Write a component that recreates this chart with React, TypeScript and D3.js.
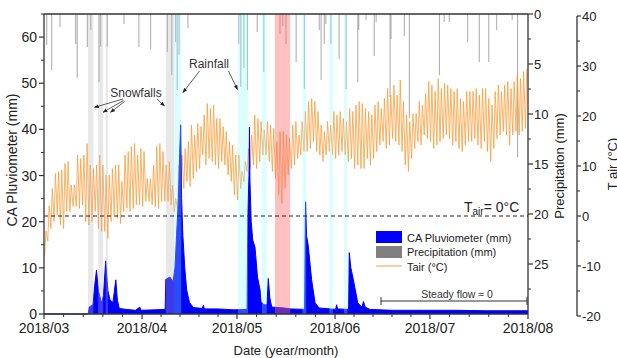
import React from "react";
import * as d3 from "d3";

// ---------- DATA ----------
const startDay = Date.UTC(2018, 2, 1);
const endDay = Date.UTC(2018, 7, 1);

// daily air temperature minimum / maximum (°C), from 2018-03-01
const tairMin = [
  -8, -5, -2.5, -1.1, 0.2, -1.8, -2.5, 0.9, 0.9, 1.9,
  1.9, 1.5, 2.2, -1.1, -1.8, -1.1, 0.9, -2.5, -3.1, -3.1,
  -4.5, -1.1, 0.2, -0.5, -1.5, 0.9, 1.5, 0.9, 1.5, 2.2,
  2.2, 1.9, 2.9, 2.9, 2.2, 1.9, 1.5, 2.9, 2.9, 2.9,
  2.2, 0.9, 1.5, 4.2, 5.5, 6.9, 5.9, 7.5, 8.9, 9.5,
  12.2, 10.2, 11.5, 10.9, 10.2, 9.5, 10.9, 10.2, 8.2, 6.9,
  4.2, 3.2, 5.5, 6.9, 8.9, 9.5, 10.2, 9.5, 10.9, 12.2,
  12.2, 10.9, 8.9, 7.5, 4.2, 2.5, 5.5, 8.2, 9.5, 10.2,
  11.5, 12.2, 12.9, 12.9, 13.5, 14.9, 12.9, 12.2, 10.9, 12.2,
  12.9, 12.2, 11.5, 12.2, 12.9, 12.2, 10.9, 11.5, 9.5, 10.2,
  9.5, 9.5, 11.5, 10.2, 11.5, 12.9, 14.2, 14.9, 13.5, 14.2,
  15.5, 14.9, 14.2, 12.9, 10.2, 8.9, 11.5, 13.5, 14.9, 14.2,
  16.2, 15.5, 14.9, 13.5, 14.2, 14.9, 15.5, 16.2, 15.5, 14.2,
  14.9, 13.5, 12.9, 14.2, 14.9, 14.9, 15.5, 14.2, 13.5, 14.9,
  12.9, 10.9, 13.5, 15.5, 16.2, 16.9, 16.2, 14.2, 16.2, 16.9,
  16.2, 16.9, 17.5,
];
const tairMax = [
  -3, 2, 5.5, 8.5, 8.9, 9.2, 10.5, 10.9, 6.2, 6.2,
  12.2, 11.5, 12.2, 14.5, 10.2, 9.5, 10.2, 12.2, 10.2, 8.2,
  8.2, 9.5, 10.2, 10.2, 6.9, 12.2, 12.9, 13.9, 14.5, 12.2,
  13.5, 12.9, 7.5, 7.5, 10.2, 13.9, 14.5, 12.9, 10.2, 10.9,
  6.2, 3.5, 10.2, 12.2, 13.5, 14.9, 18.2, 16.2, 18.5, 17.9,
  20.2, 22.5, 21.5, 22.2, 19.5, 19.5, 17.9, 16.9, 14.9, 14.2,
  12.2, 12.2, 8.9, 10.9, 13.5, 16.2, 20.2, 19.5, 18.9, 17.2,
  18.9, 18.2, 17.5, 14.9, 16.9, 16.9, 16.2, 15.5, 18.2, 18.9,
  16.2, 18.9, 20.9, 22.9, 23.5, 22.9, 20.9, 18.2, 16.9, 18.9,
  18.2, 20.9, 20.2, 20.9, 19.5, 18.9, 21.5, 20.9, 22.2, 22.9,
  22.5, 21.5, 20.9, 20.2, 22.2, 22.9, 21.5, 23.5, 25.5, 24.2,
  26.2, 24.2, 27.2, 22.9, 20.2, 18.9, 20.5, 20.5, 22.9, 22.2,
  24.5, 26.9, 26.2, 24.9, 27.5, 25.5, 26.5, 26.2, 25.5, 24.9,
  25.5, 23.5, 22.9, 24.9, 24.9, 24.9, 25.5, 24.2, 25.5, 25.5,
  23.5, 22.2, 24.9, 26.2, 24.9, 26.2, 26.9, 25.5, 26.9, 28.2,
  27.5, 28.9, 29.5,
];

// CA pluviometer discharge (mm): day offset from 2018-03-01 and value
const caDay = [
  0, 14.0, 14.3, 15.5, 16.0, 16.6, 17.2, 18.2, 18.8, 19.5,
  20.2, 20.9, 21.8, 22.7, 23.2, 23.8, 26, 29, 30.3, 30.6,
  35, 38.3, 38.5, 39.8, 40.8, 41.4, 41.9, 42.5, 42.9, 43.2,
  43.5, 43.9, 44.5, 45.1, 46, 47.2, 50, 50.4, 50.7, 55,
  60, 64.2, 64.45, 64.8, 64.95, 65.1, 65.5, 66.0, 66.7, 67.5,
  68.3, 68.6, 69.5, 70.5, 70.9, 71.4, 72, 76, 78, 82.4,
  82.6, 82.7, 83.0, 83.5, 84.6, 85.7, 87, 92.2, 92.5, 92.8,
  96.3, 96.5, 97.0, 97.8, 99.2, 100.5, 101, 101.5, 103, 110,
  120, 130, 140, 153,
];
const caMm = [
  0, 0, 1.5, 2, 6, 9.5, 5, 2.3, 4, 11.5,
  5, 3, 2.5, 7.4, 3, 1.2, 1, 0.8, 1.5, 0.8,
  0.9, 1, 7.5, 8, 7, 10, 17, 25, 35, 41,
  25, 17, 10, 5.2, 2.5, 1.4, 1.2, 1.9, 1.1, 1.1,
  0.9, 1, 22, 30, 40.5, 29, 20, 16, 14.5, 8,
  5.2, 2.7, 2, 2, 7.7, 3.5, 1.5, 1.3, 1.1, 1,
  20, 24.3, 17, 15, 7.4, 2.4, 1.3, 1, 2, 1.1,
  1, 13.3, 10, 7.4, 2.4, 1.5, 2.7, 1.5, 1, 0.8,
  0.8, 0.8, 0.7, 0.7,
];

// precipitation (mm), day offset and amount
const precipDay = [
  0.85, 2.43, 5.06, 10.0, 10.5, 13.7, 14.8, 17.4, 17.9, 20.0,
  25.3, 30.0, 33.7, 39.0, 40.4, 41.6, 42.1, 42.7, 45.5, 61.6,
  62.2, 63.2, 64.3, 67.4, 69.5, 74.6, 75.5, 76.5, 79.7, 82.3,
  87.0, 87.6, 88.6, 89.1, 90.7, 93.3, 95.5, 99.2, 99.5, 101.8,
  104.4, 105.0, 109.4, 109.7, 113.9, 115.5, 125.0, 126.5, 128.1, 133.9,
  137.6, 140.6, 143.1, 148.0, 149.7,
];
const precipMm = [
  3.1, 5.6, 1.3, 3.0, 6.4, 3.3, 1.6, 6.8, 3.3, 3.3,
  1.0, 3.3, 3.5, 3.8, 6.1, 2.8, 7.6, 4.1, 1.4, 3.0,
  7.3, 5.4, 7.6, 1.8, 5.8, 2.0, 1.2, 3.0, 4.8, 7.5,
  1.6, 6.6, 3.0, 1.0, 3.0, 4.5, 7.5, 6.8, 1.6, 0.6,
  4.2, 0.8, 8.3, 2.5, 2.2, 10.4, 6.1, 0.8, 0.8, 2.8,
  4.8, 4.8, 1.6, 0.6, 14.3,
];

// highlighted periods (day offsets)
const bandStart = [13.9, 17.1, 19.5, 38.5, 41.1, 61.3, 68.9, 73.0, 81.7, 90.2, 94.8];
const bandEnd = [15.6, 18.7, 20.2, 41.1, 43.4, 64.5, 70.4, 77.8, 82.9, 91.3, 95.9];
const bandKind = ["snow", "snow", "snow", "snow", "rain", "rain", "rain", "heat", "rain", "rain", "rain"];

const caTicks = [0, 10, 20, 30, 40, 50, 60];
const caMinor = [5, 15, 25, 35, 45, 55, 65];
const pTicks = [0, 5, 10, 15, 20, 25];
const pMinor = [2.5, 7.5, 12.5, 17.5, 22.5, 27.5];
const tTicks = [-20, -10, 0, 10, 20, 30, 40];
const tMinor = [-15, -5, 5, 15, 25, 35];

const legendLabels = ["CA Pluviometer (mm)", "Precipitation (mm)", "Tair (°C)"];

// ---------- CHART ----------
const L = 44, R = 528, T = 14, B = 314;
const dayDate = (d: number) => new Date(startDay + d * 86400000);

export default function App() {
  const x = d3.scaleUtc().domain([new Date(startDay), new Date(endDay)]).range([L, R]);
  const xd = (d: number) => x(dayDate(d));
  const yCA = d3.scaleLinear().domain([0, 65]).range([B, T]);
  const yP = d3.scaleLinear().domain([0, 30]).range([T, B]);
  const yT = d3.scaleLinear().domain([-20, 40]).range([316, 16]);

  const caPts = caDay.map((d, i) => [d, caMm[i]] as [number, number]);
  const area = d3.area<[number, number]>().x((p) => xd(p[0])).y0(B).y1((p) => yCA(p[1]));
  const caLine = d3.line<[number, number]>().x((p) => xd(p[0])).y((p) => yCA(p[1]));

  const tPts: [number, number][] = [];
  const n = Math.min(tairMin.length, tairMax.length);
  for (let i = 0; i < n; i++) {
    tPts.push([i + 0.2, tairMin[i]]);
    tPts.push([i + 0.62, tairMax[i]]);
  }
  const tLine = d3.line<[number, number]>().x((p) => xd(p[0])).y((p) => yT(p[1]));

  const months = x.ticks(d3.utcMonth.every(1)!);
  const fmt = d3.utcFormat("%Y/%m");
  const minorX: number[] = [];
  for (let i = 0; i < months.length - 1; i++) {
    const a = x(months[i]), b = x(months[i + 1]);
    for (let k = 1; k < 5; k++) minorX.push(a + ((b - a) * k) / 5);
  }

  const bandFill: Record<string, string> = { snow: "#b8b8b8", rain: "#8ffcfc", heat: "#ff6a6a" };
  const bandOp: Record<string, number> = { snow: 0.32, rain: 0.3, heat: 0.42 };

  const axisC = "#333";
  const font = "Liberation Sans, Arial, sans-serif";

  return (
    <svg width={617} height={358} style={{ position: "absolute", left: 0, top: 0 }} fontFamily={font}>
      <defs>
        <marker id="ah" viewBox="0 0 10 10" refX="9" refY="5" markerWidth="6" markerHeight="6" orient="auto-start-reverse">
          <path d="M0,1 L10,5 L0,9 z" fill="#222" />
        </marker>
      </defs>
      <rect width={617} height={358} fill="#fff" />
      {/* precipitation */}
      {precipDay.map((d, i) => (
        <line key={"p" + i} x1={xd(d)} x2={xd(d)} y1={yP(0)} y2={yP(precipMm[i])} stroke="#7a7a7a" strokeOpacity={0.6} strokeWidth={1.1} />
      ))}
      {/* Tair */}
      <path d={tLine(tPts) || ""} fill="none" stroke="#ff9a33" strokeOpacity={0.85} strokeWidth={0.9} />
      {/* CA */}
      <path d={area(caPts) || ""} fill="#0000ff" />
      <path d={caLine(caPts) || ""} fill="none" stroke="#0000ff" strokeWidth={1} />
      {/* bands */}
      {bandStart.map((s, i) => (
        <rect key={"b" + i} x={xd(s)} y={T} width={xd(bandEnd[i]) - xd(s)} height={B - T} fill={bandFill[bandKind[i]]} fillOpacity={bandOp[bandKind[i]]} />
      ))}
      {/* zero line */}
      <line x1={L} x2={R} y1={yT(0)} y2={yT(0)} stroke="#222" strokeWidth={1} strokeDasharray="4 3" />
      <text x={464} y={212} fontSize={14} fill="#222">
        T<tspan fontSize={10} dy={3}>air</tspan><tspan dy={-3}>= 0°C</tspan>
      </text>

      {/* frame */}
      <line x1={L} x2={R} y1={T} y2={T} stroke={axisC} strokeWidth={1.3} />
      {/* left axis */}
      <line x1={L} x2={L} y1={T} y2={B} stroke={axisC} strokeWidth={1.3} />
      {caTicks.map((v) => (
        <g key={"cl" + v}>
          <line x1={L - 5} x2={L} y1={yCA(v)} y2={yCA(v)} stroke={axisC} strokeWidth={1.2} />
          <text x={L - 7} y={yCA(v) + 5} fontSize={14} textAnchor="end" fill="#222">{v}</text>
        </g>
      ))}
      {caMinor.map((v) => (
        <line key={"cm" + v} x1={L - 3} x2={L} y1={yCA(v)} y2={yCA(v)} stroke={axisC} strokeWidth={1} />
      ))}
      <text transform={`translate(17,160) rotate(-90)`} fontSize={14} textAnchor="middle" fill="#222">CA Pluviometer (mm)</text>

      {/* bottom axis */}
      <line x1={L} x2={R} y1={B} y2={B} stroke={axisC} strokeWidth={1.3} />
      {months.map((m, i) => (
        <g key={"m" + i}>
          <line x1={x(m)} x2={x(m)} y1={B} y2={B + 5} stroke={axisC} strokeWidth={1.2} />
          <text x={x(m)} y={333} fontSize={14} textAnchor="middle" fill="#222">{fmt(m)}</text>
        </g>
      ))}
      {minorX.map((v, i) => (
        <line key={"mx" + i} x1={v} x2={v} y1={B} y2={B + 3} stroke={axisC} strokeWidth={1} />
      ))}
      <text x={286} y={355} fontSize={13} textAnchor="middle" fill="#222">Date (year/month)</text>

      {/* precipitation axis */}
      <line x1={R} x2={R} y1={T} y2={B} stroke={axisC} strokeWidth={1.3} />
      {pTicks.map((v) => (
        <g key={"pt" + v}>
          <line x1={R} x2={R + 5} y1={yP(v)} y2={yP(v)} stroke={axisC} strokeWidth={1.2} />
          <text x={R + 6} y={yP(v) + 5} fontSize={13} fill="#222">{v}</text>
        </g>
      ))}
      {pMinor.map((v) => (
        <line key={"pm" + v} x1={R} x2={R + 3} y1={yP(v)} y2={yP(v)} stroke={axisC} strokeWidth={1} />
      ))}
      <text transform={`translate(564,166) rotate(-90)`} fontSize={13} textAnchor="middle" fill="#222">Precipitation (mm)</text>

      {/* Tair axis */}
      <line x1={577} x2={577} y1={yT(40)} y2={yT(-20)} stroke={axisC} strokeWidth={1.3} />
      {tTicks.map((v) => (
        <g key={"tt" + v}>
          <line x1={577} x2={581} y1={yT(v)} y2={yT(v)} stroke={axisC} strokeWidth={1.2} />
          <text x={582} y={yT(v) + 5} fontSize={13} fill="#222">{v}</text>
        </g>
      ))}
      {tMinor.map((v) => (
        <line key={"tm" + v} x1={577} x2={580} y1={yT(v)} y2={yT(v)} stroke={axisC} strokeWidth={1} />
      ))}
      <text transform={`translate(617,164) rotate(-90)`} fontSize={13} textAnchor="middle" fill="#222">T air (°C)</text>

      {/* legend */}
      <rect x={376} y={231} width={26} height={12} fill="#0000ff" />
      <rect x={376} y={246} width={26} height={12} fill="#808080" />
      <line x1={376} x2={402} y1={266} y2={266} stroke="#ffb060" strokeWidth={1.2} />
      <text x={407} y={241.5} fontSize={11} fill="#222">{legendLabels[0]}</text>
      <text x={407} y={256} fontSize={11} fill="#222">{legendLabels[1]}</text>
      <text x={407} y={270.5} fontSize={11} fill="#222">{legendLabels[2]}</text>

      {/* steady flow */}
      <line x1={381} x2={527} y1={301} y2={301} stroke="#333" strokeWidth={1} />
      <line x1={381} x2={381} y1={297} y2={305} stroke="#333" strokeWidth={1} />
      <line x1={527} x2={527} y1={297} y2={305} stroke="#333" strokeWidth={1} />
      <text x={457} y={297.5} fontSize={10.5} textAnchor="middle" fill="#333">Steady flow ≈ 0</text>

      {/* annotations */}
      <text x={136} y={97} fontSize={12} textAnchor="middle" fill="#333">Snowfalls</text>
      <line x1={123} y1={99} x2={94.5} y2={107.3} stroke="#333" strokeWidth={0.8} markerEnd="url(#ah)" />
      <line x1={123.5} y1={100.5} x2={103} y2={112.3} stroke="#333" strokeWidth={0.8} markerEnd="url(#ah)" />
      <line x1={124.5} y1={101.5} x2={110.5} y2={112.3} stroke="#333" strokeWidth={0.8} markerEnd="url(#ah)" />
      <line x1={157} y1={99} x2={164.5} y2={106} stroke="#333" strokeWidth={0.8} markerEnd="url(#ah)" />
      <text x={209} y={67.5} fontSize={12} textAnchor="middle" fill="#333">Rainfall</text>
      <line x1={199.5} y1={71} x2={183} y2={92.5} stroke="#333" strokeWidth={0.8} markerEnd="url(#ah)" />
      <line x1={228.5} y1={71} x2={237.5} y2={89.5} stroke="#333" strokeWidth={0.8} markerEnd="url(#ah)" />
    </svg>
  );
}
